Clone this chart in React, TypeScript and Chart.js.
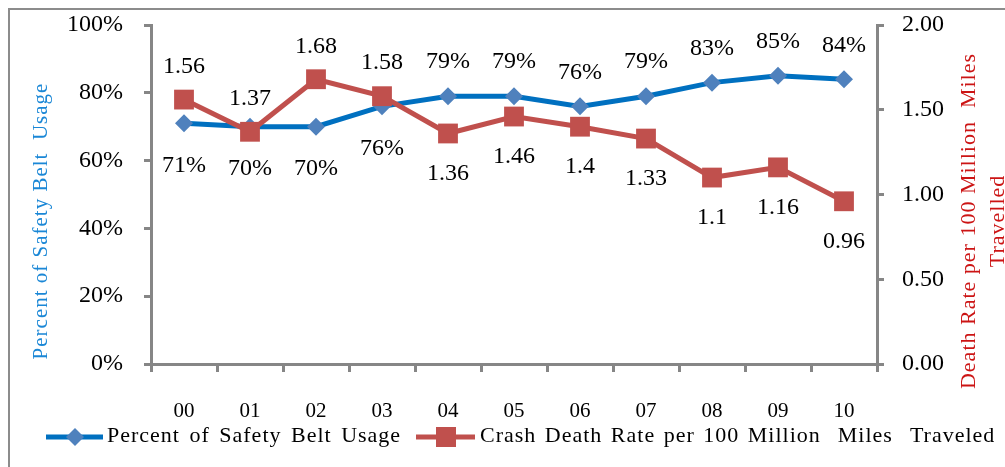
import React, { useEffect, useRef } from 'react';
import { Chart, registerables } from 'chart.js';

Chart.register(...registerables);

const YEARS = ['00', '01', '02', '03', '04', '05', '06', '07', '08', '09', '10'];
const BELT_USAGE = [71, 70, 70, 76, 79, 79, 76, 79, 83, 85, 84];
const DEATH_RATE = [1.56, 1.37, 1.68, 1.58, 1.36, 1.46, 1.4, 1.33, 1.1, 1.16, 0.96];
const BELT_LABEL_SIDE = ['below', 'below', 'below', 'below', 'above', 'above', 'above', 'above', 'above', 'above', 'above'];
const RATE_LABEL_SIDE = ['above', 'above', 'above', 'above', 'below', 'below', 'below', 'below', 'below', 'below', 'below'];

const BELT_NAME = 'Percent of Safety Belt Usage';
const RATE_NAME = 'Crash Death Rate per 100 Million  Miles  Traveled';
const LEFT_TITLE = 'Percent of Safety Belt  Usage';
const RIGHT_TITLE = ['Death Rate per 100 Million  Miles', 'Travelled'];

const FONT = '"Liberation Serif", "Times New Roman", serif';
const BLUE_LINE = '#0070C0';
const BLUE_MARK = '#4F81BD';
const RED = '#C0504D';
const AXIS = '#868686';
const BLUE_TITLE = '#1A87D6';
const RED_TITLE = '#CC1414';

const decorPlugin = {
  id: 'decor',
  beforeDraw(chart: any) {
    const ctx = chart.ctx;
    ctx.save();
    ctx.fillStyle = '#ffffff';
    ctx.fillRect(0, 0, chart.width, chart.height);
    ctx.strokeStyle = '#8c8c8c';
    ctx.lineWidth = 2;
    ctx.strokeRect(9, 9, chart.width + 20, chart.height + 20);
    ctx.restore();
  },
  afterDatasetsDraw(chart: any) {
    const ctx = chart.ctx;
    ctx.save();
    ctx.font = `24px ${FONT}`;
    ctx.fillStyle = '#000';
    ctx.textAlign = 'center';
    ctx.textBaseline = 'middle';
    const beltMeta = chart.getDatasetMeta(0);
    beltMeta.data.forEach((pt: any, i: number) => {
      const dy = BELT_LABEL_SIDE[i] === 'above' ? -34 : 42;
      ctx.fillText(`${BELT_USAGE[i]}%`, pt.x, pt.y + dy);
    });
    const rateMeta = chart.getDatasetMeta(1);
    rateMeta.data.forEach((pt: any, i: number) => {
      const dy = RATE_LABEL_SIDE[i] === 'above' ? -33 : 40;
      ctx.fillText(String(DEATH_RATE[i]), pt.x, pt.y + dy);
    });
    ctx.restore();
  },
  afterDraw(chart: any) {
    const ctx = chart.ctx;
    ctx.save();
    ctx.textAlign = 'center';
    ctx.textBaseline = 'middle';
    // left title
    ctx.save();
    ctx.translate(41, 221);
    ctx.rotate(-Math.PI / 2);
    ctx.font = `21px ${FONT}`;
    (ctx as any).letterSpacing = '1px';
    ctx.fillStyle = BLUE_TITLE;
    ctx.fillText(LEFT_TITLE, 0, 0);
    ctx.restore();
    // right title
    ctx.save();
    ctx.translate(969, 221);
    ctx.rotate(-Math.PI / 2);
    ctx.font = `22px ${FONT}`;
    (ctx as any).letterSpacing = '1px';
    ctx.fillStyle = RED_TITLE;
    RIGHT_TITLE.forEach((t, i) => ctx.fillText(t, 0, i * 29));
    ctx.restore();

    // legend
    ctx.font = `22px ${FONT}`;
    (ctx as any).letterSpacing = '1px';
    (ctx as any).wordSpacing = '3px';
    ctx.textAlign = 'left';
    ctx.textBaseline = 'alphabetic';
    const ly = 437;
    ctx.lineWidth = 5;
    ctx.strokeStyle = BLUE_LINE;
    ctx.beginPath();
    ctx.moveTo(46, ly);
    ctx.lineTo(103, ly);
    ctx.stroke();
    ctx.fillStyle = BLUE_MARK;
    ctx.beginPath();
    ctx.moveTo(75 - 9, ly);
    ctx.lineTo(75, ly - 9);
    ctx.lineTo(75 + 9, ly);
    ctx.lineTo(75, ly + 9);
    ctx.closePath();
    ctx.fill();
    ctx.fillStyle = '#000';
    ctx.fillText(BELT_NAME, 107, 442);

    (ctx as any).wordSpacing = '2px';
    ctx.strokeStyle = RED;
    ctx.beginPath();
    ctx.moveTo(416, ly);
    ctx.lineTo(475, ly);
    ctx.stroke();
    ctx.fillStyle = RED;
    ctx.fillRect(446 - 10, ly - 10, 20, 20);
    ctx.fillStyle = '#000';
    ctx.fillText(RATE_NAME, 480, 442);
    ctx.restore();
  },
};

const noPad = (s: any) => {
  s.paddingTop = 0;
  s.paddingBottom = 0;
};

export default function App() {
  const ref = useRef<HTMLCanvasElement>(null);
  useEffect(() => {
    if (!ref.current) return;
    const chart = new Chart(ref.current, {
      type: 'line',
      data: {
        labels: YEARS,
        datasets: [
          {
            label: BELT_NAME,
            data: BELT_USAGE,
            yAxisID: 'y',
            borderColor: BLUE_LINE,
            borderWidth: 5,
            backgroundColor: BLUE_MARK,
            pointStyle: 'rectRot',
            pointRadius: 9,
            pointBorderWidth: 0,
            pointBackgroundColor: BLUE_MARK,
            pointBorderColor: BLUE_MARK,
            tension: 0,
            order: 1,
          },
          {
            label: RATE_NAME,
            data: DEATH_RATE,
            yAxisID: 'y1',
            borderColor: RED,
            borderWidth: 5,
            backgroundColor: RED,
            pointStyle: 'rect',
            pointRadius: 14,
            pointBorderWidth: 0,
            pointBackgroundColor: RED,
            pointBorderColor: RED,
            tension: 0,
            order: 0,
          },
        ],
      },
      options: {
        responsive: false,
        animation: false,
        events: [],
        layout: { padding: { top: 25, left: 0, right: 0, bottom: 0 } },
        plugins: { legend: { display: false }, tooltip: { enabled: false }, title: { display: false } },
        scales: {
          x: {
            type: 'category',
            offset: true,
            grid: { display: true, drawOnChartArea: false, drawTicks: true, tickLength: 8, color: AXIS, lineWidth: 3, offset: true },
            border: { display: true, color: AXIS, width: 3 },
            ticks: { font: { family: FONT, size: 21 }, color: '#000', padding: 27, maxRotation: 0, autoSkip: false },
            afterFit: (s: any) => { s.height = 103; s.paddingLeft = 0; s.paddingRight = 0; },
          },
          y: {
            type: 'linear',
            position: 'left',
            min: 0,
            max: 100,
            ticks: { stepSize: 20, callback: (v: any) => `${v}%`, font: { family: FONT, size: 24 }, color: '#000', padding: 21 },
            grid: { display: true, drawOnChartArea: false, drawTicks: true, tickLength: 7, color: AXIS, lineWidth: 3 },
            border: { display: true, color: AXIS, width: 3 },
            afterFit: (s: any) => { s.width = 151; noPad(s); },
          },
          y1: {
            type: 'linear',
            position: 'right',
            min: 0,
            max: 2,
            ticks: { stepSize: 0.5, callback: (v: any) => Number(v).toFixed(2), font: { family: FONT, size: 24 }, color: '#000', padding: 18 },
            grid: { display: true, drawOnChartArea: false, drawTicks: true, tickLength: 7, color: AXIS, lineWidth: 3 },
            border: { display: true, color: AXIS, width: 3 },
            afterFit: (s: any) => { s.width = 128; noPad(s); },
          },
        },
      } as any,
      plugins: [decorPlugin],
    });
    return () => chart.destroy();
  }, []);
  return (
    <div style={{ position: 'absolute', left: 0, top: 0, width: 1005, height: 467 }}>
      <canvas ref={ref} width={1005} height={467} style={{ width: 1005, height: 467, display: 'block' }} />
    </div>
  );
}
